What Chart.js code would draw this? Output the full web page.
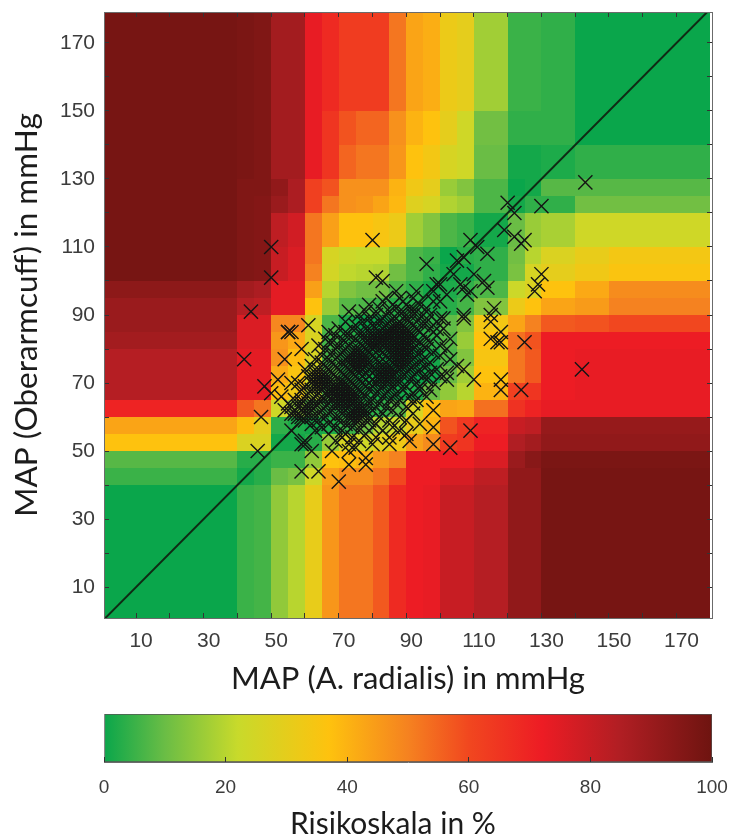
<!DOCTYPE html>
<html>
<head>
<meta charset="utf-8">
<style>
  html, body { margin: 0; padding: 0; background: #fff; }
  canvas { position: absolute; left: 0; display: block; }
  #heat { top: 0; }
  #bar { top: 700px; }
  #barTitle { position: absolute; left: 290px; top: 804px; font: 30px Lato, sans-serif; color: #1c1c1c; white-space: nowrap; }
</style>
<script src="https://cdn.jsdelivr.net/npm/chart.js@4"></script>
</head>
<body>
<canvas id="heat" width="732" height="700"></canvas>
<canvas id="bar" width="732" height="139"></canvas>
<div id="barTitle">Risikoskala in %</div>
<script>
// cell borders of the risk grid, in mmHg (same on both axes)
const cellEdges = [0, 40, 45, 50, 55, 60, 65, 70, 75, 80, 85, 90, 95, 100, 105, 110, 120, 125, 130, 140, 150, 180];

// risk in %, bottom row first, one value for each cell between cellEdges
const riskRows = [
  [ 0,  5,  6, 15, 20, 31, 46, 52, 52, 57, 68, 72, 73, 80, 80, 84, 92, 92, 98, 98, 98],
  [ 5,  1,  3, 10, 12, 24, 44, 48, 48, 52, 60, 72, 72, 77, 77, 82, 92, 92, 98, 98, 98],
  [ 8,  3,  3,  5,  5, 15, 37, 38, 40, 46, 50, 72, 72, 72, 72, 76, 90, 94, 97, 97, 97],
  [37, 27, 27,  1,  1,  3, 16, 26, 24, 28, 33, 44, 48, 63, 65, 72, 85, 88, 92, 92, 92],
  [43, 38, 30,  4,  2,  1,  2,  5, 11, 20, 23, 31, 40, 58, 64, 70, 80, 82, 91, 91, 91],
  [70, 57, 52, 24, 15,  8,  4,  3,  3,  4,  8, 26, 38, 43, 42, 53, 66, 70, 73, 73, 73],
  [84, 74, 74, 38, 33, 20,  7,  4,  2,  1,  1,  2, 10, 15, 20, 40, 62, 65, 72, 73, 73],
  [84, 74, 74, 42, 36, 24,  8,  3,  1,  0,  0,  0,  1, 10, 17, 37, 52, 57, 72, 73, 73],
  [84, 74, 74, 47, 38, 26,  6,  3,  1,  1,  0,  0,  1,  7, 13, 35, 52, 57, 72, 73, 73],
  [88, 76, 76, 46, 42, 27,  6,  3,  2,  1,  1,  2,  4,  8, 16, 37, 53, 58, 72, 72, 72],
  [90, 76, 76, 49, 49, 26,  7,  2,  0,  0,  3,  3,  4,  9, 13, 34, 43, 50, 57, 58, 60],
  [90, 84, 82, 74, 74, 37, 16,  8,  7,  5,  3,  3,  2,  3,  6, 13, 32, 37, 43, 45, 50],
  [93, 88, 86, 74, 74, 44, 20, 13, 11, 11,  7,  4,  1,  2,  4,  7, 23, 27, 37, 42, 48],
  [98, 96, 95, 80, 76, 50, 25, 21, 20, 19, 11,  7,  4,  1,  1,  4, 12, 26, 30, 33, 36],
  [98, 96, 95, 80, 76, 52, 26, 23, 22, 22, 17,  7,  5,  0,  3,  4, 11, 20, 27, 31, 34],
  [98, 96, 95, 82, 78, 52, 44, 37, 37, 35, 32, 17, 13,  7,  5,  1, 10, 16, 18, 24, 24],
  [98, 96, 95, 90, 86, 62, 52, 47, 46, 43, 39, 28, 26, 19, 17,  7,  1,  4,  4, 11, 11],
  [98, 96, 96, 92, 86, 62, 58, 47, 47, 47, 40, 33, 30, 16, 13,  7,  0,  1,  8,  8,  8],
  [98, 97, 96, 88, 88, 73, 65, 55, 52, 52, 46, 37, 34, 26, 24, 10,  1,  1,  2,  4,  4],
  [98, 97, 96, 88, 88, 73, 65, 58, 55, 55, 47, 40, 37, 30, 24, 11,  4,  4,  4,  0,  0],
  [98, 97, 96, 88, 88, 73, 68, 63, 63, 63, 52, 43, 41, 32, 30, 17,  5,  5,  4,  0,  0]
];

// colour scale
const colourStops = [0, 10, 22, 37, 50, 60, 72, 85, 100];
const colourValues = ['#0aa64b', '#6abd45', '#c8da2b', '#fec20e', '#f58220', '#f1471f', '#ed1c24', '#b01e23', '#6e1410'];

// measurements: [y, [x, x, ...]] in mmHg
const crossRows = [
  [129, [143]], [123, [120]], [122, [130]], [120, [122]], [115, [119]], [113, [122]], [112, [80, 109, 125]],
  [111, [124]], [110, [50, 111]], [108, [114]], [107, [107]], [106, [105]], [105, [96]], [102, [104, 110, 130]],
  [101, [50, 81]], [100, [83, 113]], [99, [99, 100, 106, 129]], [98, [114, 107]], [97, [87, 93, 98, 109, 128]],
  [96, [102, 108]],
  [95, [84, 88, 92]],
  [94, [83, 89, 98, 100]],
  [93, [79, 86, 90, 94]],
  [92, [82, 87, 91, 96, 116]],
  [91, [44, 73, 78, 85, 89, 93]],
  [90, [76, 81, 84, 88, 92, 95, 97, 107, 115]],
  [89, [79, 83, 86, 90, 94, 100, 101, 107]],
  [88, [72, 77, 82, 85, 88, 91, 93, 96, 99, 115]],
  [87, [61, 75, 80, 84, 87, 89, 92, 95]],
  [86, [70, 74, 78, 81, 83, 85, 86, 87, 88, 89, 90, 93, 97, 99, 101]],
  [85, [55, 55, 56, 67, 72, 76, 79, 82, 84, 85, 86, 87, 88, 89, 90, 91, 94, 98, 118]],
  [84, [69, 73, 77, 80, 81, 82, 83, 84, 85, 86, 87, 88, 89, 90, 91, 92, 95, 99]],
  [83, [66, 71, 75, 78, 79, 80, 81, 82, 83, 84, 85, 86, 87, 88, 89, 90, 91, 92, 96, 103, 115]],
  [82, [67, 68, 72, 74, 76, 78, 79, 80, 81, 82, 83, 84, 85, 86, 87, 88, 89, 90, 91, 94, 97, 117, 118, 125]],
  [81, [64, 70, 73, 77, 79, 80, 81, 83, 84, 86, 87, 88, 89, 90, 91, 93, 95, 100]],
  [80, [59, 66, 69, 72, 75, 78, 80, 82, 85, 87, 88, 89, 90, 92, 96, 102]],
  [79, [68, 71, 74, 75, 76, 77, 79, 81, 83, 86, 87, 88, 89, 90, 91, 94, 98]],
  [78, [65, 70, 73, 74, 75, 76, 77, 78, 80, 82, 84, 86, 87, 88, 89, 90, 93, 100]],
  [77, [42, 54, 63, 67, 69, 72, 73, 74, 75, 76, 77, 78, 81, 83, 85, 87, 88, 89, 90, 92, 95, 103]],
  [76, [65, 68, 71, 73, 74, 75, 76, 77, 78, 79, 82, 84, 86, 87, 88, 89, 90, 94, 97]],
  [75, [62, 66, 69, 72, 74, 75, 76, 77, 78, 80, 83, 85, 87, 88, 89, 90, 92, 96, 105]],
  [74, [60, 64, 67, 70, 73, 75, 76, 77, 79, 81, 83, 84, 85, 86, 88, 91, 94, 99, 107, 142]],
  [73, [63, 66, 68, 71, 74, 76, 78, 80, 82, 83, 84, 85, 86, 87, 90, 93, 97, 102]],
  [72, [61, 63, 64, 65, 66, 69, 72, 75, 77, 79, 81, 82, 83, 84, 85, 86, 89, 92, 95, 100]],
  [71, [52, 62, 63, 64, 65, 66, 67, 70, 73, 76, 78, 80, 82, 83, 84, 85, 87, 91, 96, 102, 110, 118]],
  [70, [56, 58, 62, 63, 64, 65, 66, 67, 68, 71, 72, 74, 77, 79, 81, 85, 88, 93, 98]],
  [69, [48, 60, 63, 64, 65, 66, 69, 70, 71, 72, 73, 75, 78, 80, 83, 86, 90, 94]],
  [68, [59, 62, 65, 67, 68, 69, 70, 71, 72, 73, 74, 76, 79, 82, 85, 89, 94, 97, 118, 124]],
  [67, [50, 61, 64, 66, 68, 69, 70, 71, 72, 73, 74, 75, 77, 81, 84, 87, 92]],
  [66, [53, 60, 63, 65, 67, 68, 69, 70, 71, 72, 73, 74, 75, 78, 83, 86, 91, 96]],
  [65, [57, 59, 62, 65, 68, 70, 71, 72, 73, 74, 75, 76, 80, 85, 88, 93]],
  [64, [55, 59, 61, 63, 64, 67, 69, 71, 72, 73, 74, 79, 82, 87, 92]],
  [63, [56, 58, 60, 61, 63, 66, 69, 71, 73, 75, 76, 77, 81, 84, 90]],
  [62, [54, 57, 59, 60, 62, 65, 68, 72, 74, 75, 76, 77, 78, 80, 86, 98]],
  [61, [56, 57, 58, 60, 64, 67, 71, 73, 74, 75, 76, 77, 78, 83, 92]],
  [60, [47, 58, 59, 62, 66, 69, 73, 74, 75, 76, 77, 82, 88]],
  [59, [60, 64, 70, 74, 75, 76, 79, 85, 90]],
  [58, [62, 67, 72, 77, 81, 94]],
  [57, [65, 69, 74, 80, 86, 98]],
  [56, [56, 63, 71, 76, 83, 88, 109]],
  [55, [67, 72, 78, 90]],
  [54, [71, 74, 81, 85]],
  [53, [60, 69, 76, 91]],
  [52, [59, 60, 73, 80, 85, 98]],
  [51, [103, 75]],
  [50, [46, 62, 68, 73]],
  [48, [78]], [46, [73, 78]], [44, [59, 64]], [41, [70]]
];

const diagonal = [0, 180];
const tickValues = [10, 20, 30, 40, 50, 60, 70, 80, 90, 100, 110, 120, 130, 140, 150, 160, 170];
const tickLabels = [10, 30, 50, 70, 90, 110, 130, 150, 170];
const barTicks = [0, 20, 40, 60, 80, 100];

const crosses = [];
crossRows.forEach(function(row) {
  row[1].forEach(function(x) { crosses.push({x: x, y: row[0]}); });
});

function hexToRgb(hex) {
  return [1, 3, 5].map(function(i) { return parseInt(hex.substr(i, 2), 16); });
}

function riskColour(v) {
  let i = 0;
  while (i < colourStops.length - 2 && v > colourStops[i + 1]) i++;
  const t = (v - colourStops[i]) / (colourStops[i + 1] - colourStops[i]);
  const a = hexToRgb(colourValues[i]), b = hexToRgb(colourValues[i + 1]);
  return 'rgb(' + a.map(function(c, k) { return Math.round(c + (b[k] - c) * t); }).join(',') + ')';
}

// paints the risk cells under the datasets, through the chart's scales
const riskCells = {
  id: 'riskCells',
  beforeDatasetsDraw(chart) {
    const c = chart.ctx, x = chart.scales.x, y = chart.scales.y, area = chart.chartArea;
    c.save();
    c.beginPath();
    c.rect(area.left, area.top, area.width, area.height);
    c.clip();
    riskRows.forEach(function(row, r) {
      const top = Math.round(y.getPixelForValue(cellEdges[r + 1]));
      const bottom = Math.round(y.getPixelForValue(cellEdges[r]));
      row.forEach(function(v, k) {
        const left = Math.round(x.getPixelForValue(cellEdges[k]));
        const right = Math.round(x.getPixelForValue(cellEdges[k + 1]));
        c.fillStyle = riskColour(v);
        c.fillRect(left, top, right - left, bottom - top);
      });
    });
    c.restore();
  }
};

const tickFont = {family: '"Liberation Sans", Arial, sans-serif', size: 21};
const titleFont = {family: 'Lato, sans-serif', size: 31};
const tickColour = '#3c3c3c';
const frame = '#6b6b6b';

function inwardGrid(len) {
  return {drawOnChartArea: false, drawTicks: true, tickLength: -len, tickColor: '#333', tickWidth: 1, z: 1};
}

function setTicks(scale) {
  scale.ticks = tickValues.map(function(v) { return {value: v}; });
}

function labelOnly(v) {
  return tickLabels.indexOf(v) >= 0 ? String(v) : '';
}

// fixed size for an axis, no extra room for overhanging labels
function pinSize(key, size) {
  return function(s) {
    s[key] = size;
    s.paddingLeft = s.paddingRight = s.paddingTop = s.paddingBottom = 0;
  };
}

new Chart(document.getElementById('heat'), {
  type: 'scatter',
  plugins: [riskCells],
  data: {
    datasets: [{
      data: crosses,
      pointStyle: 'crossRot',
      radius: 10,
      hoverRadius: 10,
      borderColor: '#141414',
      backgroundColor: 'transparent',
      borderWidth: 1.4
    }, {
      type: 'line',
      data: diagonal.map(function(v) { return {x: v, y: v}; }),
      borderColor: '#0f2a14',
      borderWidth: 2,
      radius: 0
    }]
  },
  options: {
    responsive: false,
    animation: false,
    layout: {autoPadding: false, padding: {top: 12, right: 20, left: 0, bottom: 0}},
    plugins: {legend: {display: false}, tooltip: {enabled: false}},
    scales: {
      x: {
        type: 'linear', min: 0.5, max: 180.5,
        afterBuildTicks: setTicks,
        afterFit: pinSize('height', 82),
        grid: inwardGrid(5),
        border: {color: frame, z: 1},
        ticks: {font: tickFont, color: tickColour, callback: labelOnly, autoSkip: false, maxRotation: 0, padding: 16, labelOffset: 5},
        title: {display: true, text: 'MAP (A. radialis) in mmHg', font: titleFont, color: '#1c1c1c', padding: {top: 0, bottom: 2}}
      },
      y: {
        type: 'linear', min: 0.9, max: 179.1,
        afterBuildTicks: setTicks,
        afterFit: pinSize('width', 104),
        grid: inwardGrid(5),
        border: {color: frame, z: 1},
        ticks: {font: tickFont, color: tickColour, callback: labelOnly, autoSkip: false, padding: 14},
        title: {display: true, text: 'MAP (Oberarmcuff) in mmHg', font: {family: titleFont.family, size: 31.5}, color: '#1c1c1c', padding: {top: 8, bottom: 0}}
      },
      xTop: {
        type: 'linear', position: 'top', min: 0.5, max: 180.5,
        afterBuildTicks: setTicks,
        afterFit: pinSize('height', 0),
        grid: inwardGrid(5),
        border: {color: frame, z: 1},
        ticks: {display: false}
      },
      yRight: {
        type: 'linear', position: 'right', min: 0.9, max: 179.1,
        afterBuildTicks: setTicks,
        afterFit: pinSize('width', 0),
        grid: inwardGrid(5),
        border: {color: frame, z: 1},
        ticks: {display: false}
      }
    }
  }
});

new Chart(document.getElementById('bar'), {
  type: 'bar',
  data: {
    labels: ['Risiko'],
    datasets: [{
      data: [[barTicks[0], barTicks[barTicks.length - 1]]],
      barPercentage: 1,
      categoryPercentage: 1,
      borderWidth: 1,
      borderColor: '#555',
      borderSkipped: false,
      backgroundColor(ctx) {
        const area = ctx.chart.chartArea;
        if (!area) return colourValues[0];
        const g = ctx.chart.ctx.createLinearGradient(area.left, 0, area.right, 0);
        colourStops.forEach(function(s, i) { g.addColorStop(s / 100, colourValues[i]); });
        return g;
      }
    }]
  },
  options: {
    indexAxis: 'y',
    responsive: false,
    animation: false,
    layout: {autoPadding: false, padding: {top: 14, left: 104, right: 20, bottom: 0}},
    plugins: {legend: {display: false}, tooltip: {enabled: false}},
    scales: {
      y: {display: false},
      x: {
        type: 'linear', min: 0, max: 100,
        afterBuildTicks(s) { s.ticks = barTicks.map(function(v) { return {value: v}; }); },
        afterFit: pinSize('height', 77),
        grid: inwardGrid(5),
        border: {color: frame, z: 1},
        ticks: {font: {family: tickFont.family, size: 19}, color: tickColour, autoSkip: false, maxRotation: 0, padding: 19}
      }
    }
  }
});
</script>
</body>
</html>
